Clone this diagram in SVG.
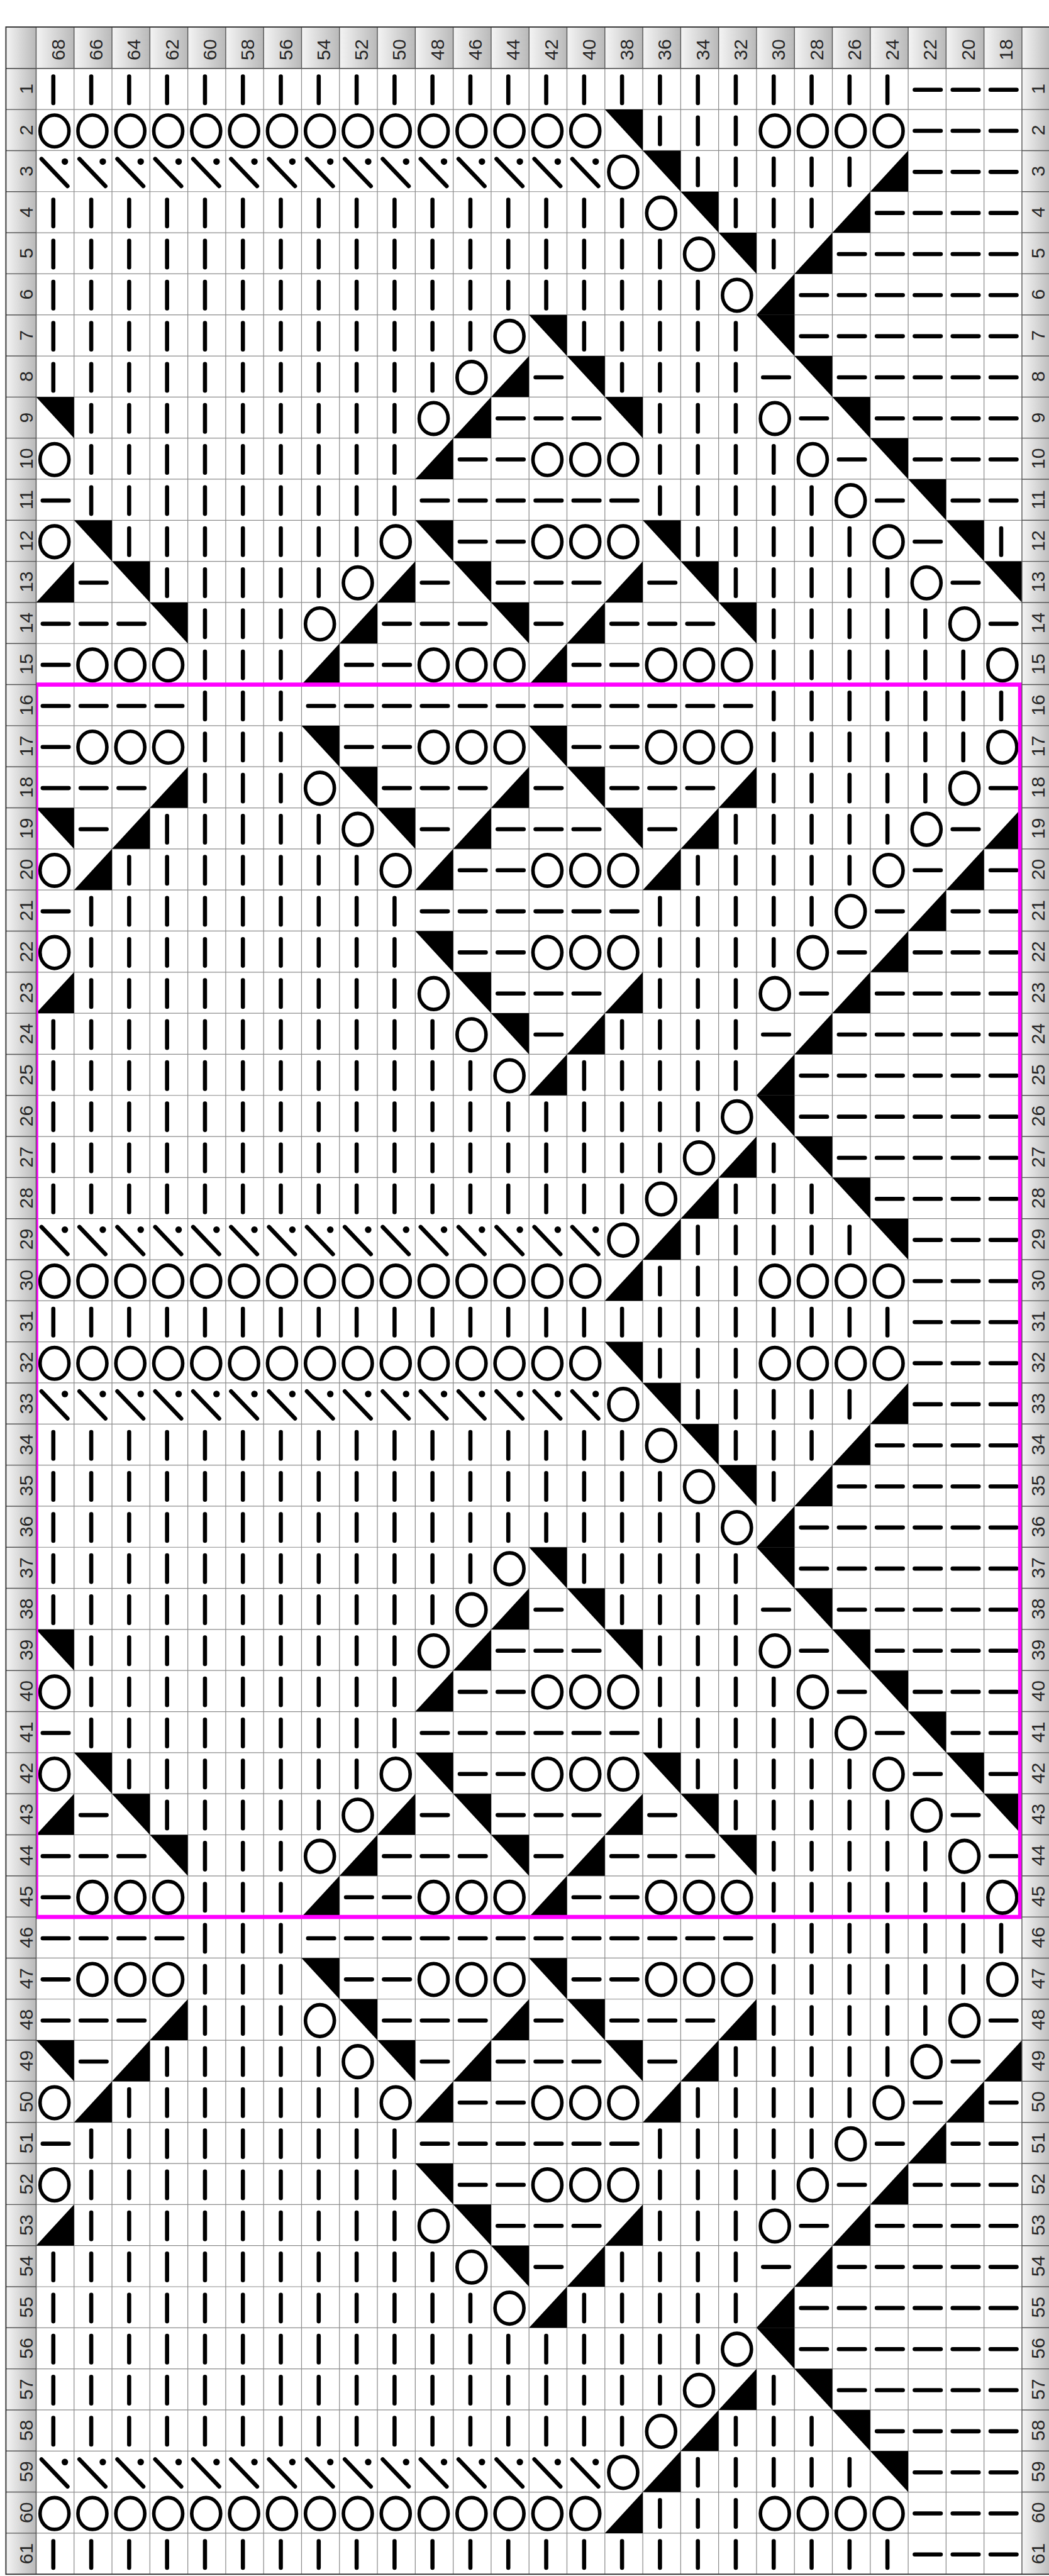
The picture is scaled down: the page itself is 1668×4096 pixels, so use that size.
<svg xmlns="http://www.w3.org/2000/svg" width="1668" height="4096" viewBox="0 0 1668 4096">
<style>
.k{fill:none;stroke:#000;stroke-width:7;stroke-linecap:round}
.o{fill:none;stroke:#000;stroke-width:6}
.t{font-family:"Liberation Sans",Arial,sans-serif;font-size:32px;fill:#262626;text-anchor:middle;dominant-baseline:central}
.g{fill:none;stroke:#8c8c8c;stroke-width:1.3}
.d{fill:none;stroke:#555;stroke-width:1.5}
</style>
<defs>
<linearGradient id="gr" x1="0" y1="0" x2="1" y2="0"><stop offset="0" stop-color="#f4f4f4"/><stop offset="1" stop-color="#b9b9b9"/></linearGradient>
<pattern id="hp" x="61" y="45.6" width="64" height="69.9" patternUnits="userSpaceOnUse"><rect width="64" height="69.9" fill="url(#gr)"/></pattern>
<path id="V" d="M29 13.5V58.5" class="k"/>
<path id="H" d="M11 36H55" class="k"/>
<ellipse id="O" cx="31" cy="36.2" rx="24.4" ry="26.8" class="o"/>
<path id="N" d="M0 0H64V69.34Z" fill="#000"/>
<path id="S" d="M64 0V69.34H0Z" fill="#000"/>
<g id="D"><path d="M9 14L53 60" class="k"/><circle cx="48.5" cy="18.6" r="5.5" fill="#000"/></g>
<g id="vD"><use href="#V" x="61"/><use href="#V" x="125"/><use href="#V" x="189"/><use href="#V" x="253"/><use href="#V" x="317"/><use href="#V" x="381"/><use href="#V" x="445"/><use href="#V" x="509"/><use href="#V" x="573"/><use href="#V" x="637"/><use href="#V" x="701"/></g>
<g id="vC"><use href="#vD"/><use href="#V" x="765"/></g>
<g id="vA"><use href="#vC"/><use href="#V" x="829"/></g>
<g id="vB"><use href="#V" x="125"/><use href="#V" x="189"/><use href="#V" x="253"/><use href="#V" x="317"/><use href="#V" x="381"/><use href="#V" x="445"/><use href="#V" x="509"/><use href="#V" x="573"/><use href="#V" x="637"/></g>
<g id="hE"><use href="#H" x="1533"/><use href="#H" x="1597"/><use href="#H" x="1661"/></g>
<g id="oA"><use href="#O" x="61"/><use href="#O" x="125"/><use href="#O" x="189"/><use href="#O" x="253"/><use href="#O" x="317"/><use href="#O" x="381"/><use href="#O" x="445"/><use href="#O" x="509"/><use href="#O" x="573"/><use href="#O" x="637"/><use href="#O" x="701"/><use href="#O" x="765"/><use href="#O" x="829"/><use href="#O" x="893"/><use href="#O" x="957"/></g>
<g id="dA"><use href="#D" x="61"/><use href="#D" x="125"/><use href="#D" x="189"/><use href="#D" x="253"/><use href="#D" x="317"/><use href="#D" x="381"/><use href="#D" x="445"/><use href="#D" x="509"/><use href="#D" x="573"/><use href="#D" x="637"/><use href="#D" x="701"/><use href="#D" x="765"/><use href="#D" x="829"/><use href="#D" x="893"/><use href="#D" x="957"/></g>

<g id="r1"><use href="#vA"/><use href="#V" x="893"/><use href="#V" x="957"/><use href="#V" x="1021"/><use href="#V" x="1085"/><use href="#V" x="1149"/><use href="#V" x="1213"/><use href="#V" x="1277"/><use href="#V" x="1341"/><use href="#V" x="1405"/><use href="#V" x="1469"/><use href="#hE"/></g>
<g id="r2"><use href="#oA"/><use href="#N" x="1021"/><use href="#V" x="1085"/><use href="#V" x="1149"/><use href="#V" x="1213"/><use href="#O" x="1277"/><use href="#O" x="1341"/><use href="#O" x="1405"/><use href="#O" x="1469"/><use href="#hE"/></g>
<g id="r3"><use href="#dA"/><use href="#O" x="1021"/><use href="#N" x="1085"/><use href="#V" x="1149"/><use href="#V" x="1213"/><use href="#V" x="1277"/><use href="#V" x="1341"/><use href="#V" x="1405"/><use href="#S" x="1469"/><use href="#hE"/></g>
<g id="r4"><use href="#vA"/><use href="#V" x="893"/><use href="#V" x="957"/><use href="#V" x="1021"/><use href="#O" x="1085"/><use href="#N" x="1149"/><use href="#V" x="1213"/><use href="#V" x="1277"/><use href="#V" x="1341"/><use href="#S" x="1405"/><use href="#H" x="1469"/><use href="#hE"/></g>
<g id="r5"><use href="#vA"/><use href="#V" x="893"/><use href="#V" x="957"/><use href="#V" x="1021"/><use href="#V" x="1085"/><use href="#O" x="1149"/><use href="#N" x="1213"/><use href="#V" x="1277"/><use href="#S" x="1341"/><use href="#H" x="1405"/><use href="#H" x="1469"/><use href="#hE"/></g>
<g id="r6"><use href="#vA"/><use href="#V" x="893"/><use href="#V" x="957"/><use href="#V" x="1021"/><use href="#V" x="1085"/><use href="#V" x="1149"/><use href="#O" x="1213"/><use href="#S" x="1277"/><use href="#H" x="1341"/><use href="#H" x="1405"/><use href="#H" x="1469"/><use href="#hE"/></g>
<g id="r7"><use href="#vC"/><use href="#O" x="829"/><use href="#N" x="893"/><use href="#V" x="957"/><use href="#V" x="1021"/><use href="#V" x="1085"/><use href="#V" x="1149"/><use href="#V" x="1213"/><use href="#N" x="1277"/><use href="#H" x="1341"/><use href="#H" x="1405"/><use href="#H" x="1469"/><use href="#hE"/></g>
<g id="r8"><use href="#vD"/><use href="#O" x="765"/><use href="#S" x="829"/><use href="#H" x="893"/><use href="#N" x="957"/><use href="#V" x="1021"/><use href="#V" x="1085"/><use href="#V" x="1149"/><use href="#V" x="1213"/><use href="#H" x="1277"/><use href="#N" x="1341"/><use href="#H" x="1405"/><use href="#H" x="1469"/><use href="#hE"/></g>
<g id="r9"><use href="#N" x="61"/><use href="#vB"/><use href="#O" x="701"/><use href="#S" x="765"/><use href="#H" x="829"/><use href="#H" x="893"/><use href="#H" x="957"/><use href="#N" x="1021"/><use href="#V" x="1085"/><use href="#V" x="1149"/><use href="#V" x="1213"/><use href="#O" x="1277"/><use href="#H" x="1341"/><use href="#N" x="1405"/><use href="#H" x="1469"/><use href="#hE"/></g>
<g id="r10"><use href="#O" x="61"/><use href="#vB"/><use href="#S" x="701"/><use href="#H" x="765"/><use href="#H" x="829"/><use href="#O" x="893"/><use href="#O" x="957"/><use href="#O" x="1021"/><use href="#V" x="1085"/><use href="#V" x="1149"/><use href="#V" x="1213"/><use href="#V" x="1277"/><use href="#O" x="1341"/><use href="#H" x="1405"/><use href="#N" x="1469"/><use href="#hE"/></g>
<g id="r11"><use href="#H" x="61"/><use href="#vB"/><use href="#H" x="701"/><use href="#H" x="765"/><use href="#H" x="829"/><use href="#H" x="893"/><use href="#H" x="957"/><use href="#H" x="1021"/><use href="#V" x="1085"/><use href="#V" x="1149"/><use href="#V" x="1213"/><use href="#V" x="1277"/><use href="#V" x="1341"/><use href="#O" x="1405"/><use href="#H" x="1469"/><use href="#N" x="1533"/><use href="#H" x="1597"/><use href="#H" x="1661"/></g>
<g id="r12"><use href="#O" x="61"/><use href="#N" x="125"/><use href="#V" x="189"/><use href="#V" x="253"/><use href="#V" x="317"/><use href="#V" x="381"/><use href="#V" x="445"/><use href="#V" x="509"/><use href="#V" x="573"/><use href="#O" x="637"/><use href="#N" x="701"/><use href="#H" x="765"/><use href="#H" x="829"/><use href="#O" x="893"/><use href="#O" x="957"/><use href="#O" x="1021"/><use href="#N" x="1085"/><use href="#V" x="1149"/><use href="#V" x="1213"/><use href="#V" x="1277"/><use href="#V" x="1341"/><use href="#V" x="1405"/><use href="#O" x="1469"/><use href="#H" x="1533"/><use href="#N" x="1597"/></g>
<g id="r13"><use href="#S" x="61"/><use href="#H" x="125"/><use href="#N" x="189"/><use href="#V" x="253"/><use href="#V" x="317"/><use href="#V" x="381"/><use href="#V" x="445"/><use href="#V" x="509"/><use href="#O" x="573"/><use href="#S" x="637"/><use href="#H" x="701"/><use href="#N" x="765"/><use href="#H" x="829"/><use href="#H" x="893"/><use href="#H" x="957"/><use href="#S" x="1021"/><use href="#H" x="1085"/><use href="#N" x="1149"/><use href="#V" x="1213"/><use href="#V" x="1277"/><use href="#V" x="1341"/><use href="#V" x="1405"/><use href="#V" x="1469"/><use href="#O" x="1533"/><use href="#H" x="1597"/><use href="#N" x="1661"/></g>
<g id="r14"><use href="#H" x="61"/><use href="#H" x="125"/><use href="#H" x="189"/><use href="#N" x="253"/><use href="#V" x="317"/><use href="#V" x="381"/><use href="#V" x="445"/><use href="#O" x="509"/><use href="#S" x="573"/><use href="#H" x="637"/><use href="#H" x="701"/><use href="#H" x="765"/><use href="#N" x="829"/><use href="#H" x="893"/><use href="#S" x="957"/><use href="#H" x="1021"/><use href="#H" x="1085"/><use href="#H" x="1149"/><use href="#N" x="1213"/><use href="#V" x="1277"/><use href="#V" x="1341"/><use href="#V" x="1405"/><use href="#V" x="1469"/><use href="#V" x="1533"/><use href="#O" x="1597"/><use href="#H" x="1661"/></g>
<g id="r15"><use href="#H" x="61"/><use href="#O" x="125"/><use href="#O" x="189"/><use href="#O" x="253"/><use href="#V" x="317"/><use href="#V" x="381"/><use href="#V" x="445"/><use href="#S" x="509"/><use href="#H" x="573"/><use href="#H" x="637"/><use href="#O" x="701"/><use href="#O" x="765"/><use href="#O" x="829"/><use href="#S" x="893"/><use href="#H" x="957"/><use href="#H" x="1021"/><use href="#O" x="1085"/><use href="#O" x="1149"/><use href="#O" x="1213"/><use href="#V" x="1277"/><use href="#V" x="1341"/><use href="#V" x="1405"/><use href="#V" x="1469"/><use href="#V" x="1533"/><use href="#V" x="1597"/><use href="#O" x="1661"/></g>
<g id="r16"><use href="#H" x="61"/><use href="#H" x="125"/><use href="#H" x="189"/><use href="#H" x="253"/><use href="#V" x="317"/><use href="#V" x="381"/><use href="#V" x="445"/><use href="#H" x="509"/><use href="#H" x="573"/><use href="#H" x="637"/><use href="#H" x="701"/><use href="#H" x="765"/><use href="#H" x="829"/><use href="#H" x="893"/><use href="#H" x="957"/><use href="#H" x="1021"/><use href="#H" x="1085"/><use href="#H" x="1149"/><use href="#H" x="1213"/><use href="#V" x="1277"/><use href="#V" x="1341"/><use href="#V" x="1405"/><use href="#V" x="1469"/><use href="#V" x="1533"/><use href="#V" x="1597"/><use href="#V" x="1661"/></g>
<g id="r17"><use href="#H" x="61"/><use href="#O" x="125"/><use href="#O" x="189"/><use href="#O" x="253"/><use href="#V" x="317"/><use href="#V" x="381"/><use href="#V" x="445"/><use href="#N" x="509"/><use href="#H" x="573"/><use href="#H" x="637"/><use href="#O" x="701"/><use href="#O" x="765"/><use href="#O" x="829"/><use href="#N" x="893"/><use href="#H" x="957"/><use href="#H" x="1021"/><use href="#O" x="1085"/><use href="#O" x="1149"/><use href="#O" x="1213"/><use href="#V" x="1277"/><use href="#V" x="1341"/><use href="#V" x="1405"/><use href="#V" x="1469"/><use href="#V" x="1533"/><use href="#V" x="1597"/><use href="#O" x="1661"/></g>
<g id="r18"><use href="#H" x="61"/><use href="#H" x="125"/><use href="#H" x="189"/><use href="#S" x="253"/><use href="#V" x="317"/><use href="#V" x="381"/><use href="#V" x="445"/><use href="#O" x="509"/><use href="#N" x="573"/><use href="#H" x="637"/><use href="#H" x="701"/><use href="#H" x="765"/><use href="#S" x="829"/><use href="#H" x="893"/><use href="#N" x="957"/><use href="#H" x="1021"/><use href="#H" x="1085"/><use href="#H" x="1149"/><use href="#S" x="1213"/><use href="#V" x="1277"/><use href="#V" x="1341"/><use href="#V" x="1405"/><use href="#V" x="1469"/><use href="#V" x="1533"/><use href="#O" x="1597"/><use href="#H" x="1661"/></g>
<g id="r19"><use href="#N" x="61"/><use href="#H" x="125"/><use href="#S" x="189"/><use href="#V" x="253"/><use href="#V" x="317"/><use href="#V" x="381"/><use href="#V" x="445"/><use href="#V" x="509"/><use href="#O" x="573"/><use href="#N" x="637"/><use href="#H" x="701"/><use href="#S" x="765"/><use href="#H" x="829"/><use href="#H" x="893"/><use href="#H" x="957"/><use href="#N" x="1021"/><use href="#H" x="1085"/><use href="#S" x="1149"/><use href="#V" x="1213"/><use href="#V" x="1277"/><use href="#V" x="1341"/><use href="#V" x="1405"/><use href="#V" x="1469"/><use href="#O" x="1533"/><use href="#H" x="1597"/><use href="#S" x="1661"/></g>
<g id="r20"><use href="#O" x="61"/><use href="#S" x="125"/><use href="#V" x="189"/><use href="#V" x="253"/><use href="#V" x="317"/><use href="#V" x="381"/><use href="#V" x="445"/><use href="#V" x="509"/><use href="#V" x="573"/><use href="#O" x="637"/><use href="#S" x="701"/><use href="#H" x="765"/><use href="#H" x="829"/><use href="#O" x="893"/><use href="#O" x="957"/><use href="#O" x="1021"/><use href="#S" x="1085"/><use href="#V" x="1149"/><use href="#V" x="1213"/><use href="#V" x="1277"/><use href="#V" x="1341"/><use href="#V" x="1405"/><use href="#O" x="1469"/><use href="#H" x="1533"/><use href="#S" x="1597"/><use href="#H" x="1661"/></g>
<g id="r21"><use href="#H" x="61"/><use href="#vB"/><use href="#H" x="701"/><use href="#H" x="765"/><use href="#H" x="829"/><use href="#H" x="893"/><use href="#H" x="957"/><use href="#H" x="1021"/><use href="#V" x="1085"/><use href="#V" x="1149"/><use href="#V" x="1213"/><use href="#V" x="1277"/><use href="#V" x="1341"/><use href="#O" x="1405"/><use href="#H" x="1469"/><use href="#S" x="1533"/><use href="#H" x="1597"/><use href="#H" x="1661"/></g>
<g id="r22"><use href="#O" x="61"/><use href="#vB"/><use href="#N" x="701"/><use href="#H" x="765"/><use href="#H" x="829"/><use href="#O" x="893"/><use href="#O" x="957"/><use href="#O" x="1021"/><use href="#V" x="1085"/><use href="#V" x="1149"/><use href="#V" x="1213"/><use href="#V" x="1277"/><use href="#O" x="1341"/><use href="#H" x="1405"/><use href="#S" x="1469"/><use href="#hE"/></g>
<g id="r23"><use href="#S" x="61"/><use href="#vB"/><use href="#O" x="701"/><use href="#N" x="765"/><use href="#H" x="829"/><use href="#H" x="893"/><use href="#H" x="957"/><use href="#S" x="1021"/><use href="#V" x="1085"/><use href="#V" x="1149"/><use href="#V" x="1213"/><use href="#O" x="1277"/><use href="#H" x="1341"/><use href="#S" x="1405"/><use href="#H" x="1469"/><use href="#hE"/></g>
<g id="r24"><use href="#vD"/><use href="#O" x="765"/><use href="#N" x="829"/><use href="#H" x="893"/><use href="#S" x="957"/><use href="#V" x="1021"/><use href="#V" x="1085"/><use href="#V" x="1149"/><use href="#V" x="1213"/><use href="#H" x="1277"/><use href="#S" x="1341"/><use href="#H" x="1405"/><use href="#H" x="1469"/><use href="#hE"/></g>
<g id="r25"><use href="#vC"/><use href="#O" x="829"/><use href="#S" x="893"/><use href="#V" x="957"/><use href="#V" x="1021"/><use href="#V" x="1085"/><use href="#V" x="1149"/><use href="#V" x="1213"/><use href="#S" x="1277"/><use href="#H" x="1341"/><use href="#H" x="1405"/><use href="#H" x="1469"/><use href="#hE"/></g>
<g id="r26"><use href="#vA"/><use href="#V" x="893"/><use href="#V" x="957"/><use href="#V" x="1021"/><use href="#V" x="1085"/><use href="#V" x="1149"/><use href="#O" x="1213"/><use href="#N" x="1277"/><use href="#H" x="1341"/><use href="#H" x="1405"/><use href="#H" x="1469"/><use href="#hE"/></g>
<g id="r27"><use href="#vA"/><use href="#V" x="893"/><use href="#V" x="957"/><use href="#V" x="1021"/><use href="#V" x="1085"/><use href="#O" x="1149"/><use href="#S" x="1213"/><use href="#V" x="1277"/><use href="#N" x="1341"/><use href="#H" x="1405"/><use href="#H" x="1469"/><use href="#hE"/></g>
<g id="r28"><use href="#vA"/><use href="#V" x="893"/><use href="#V" x="957"/><use href="#V" x="1021"/><use href="#O" x="1085"/><use href="#S" x="1149"/><use href="#V" x="1213"/><use href="#V" x="1277"/><use href="#V" x="1341"/><use href="#N" x="1405"/><use href="#H" x="1469"/><use href="#hE"/></g>
<g id="r29"><use href="#dA"/><use href="#O" x="1021"/><use href="#S" x="1085"/><use href="#V" x="1149"/><use href="#V" x="1213"/><use href="#V" x="1277"/><use href="#V" x="1341"/><use href="#V" x="1405"/><use href="#N" x="1469"/><use href="#hE"/></g>
<g id="r30"><use href="#oA"/><use href="#S" x="1021"/><use href="#V" x="1085"/><use href="#V" x="1149"/><use href="#V" x="1213"/><use href="#O" x="1277"/><use href="#O" x="1341"/><use href="#O" x="1405"/><use href="#O" x="1469"/><use href="#hE"/></g>
</defs>
<rect width="1668" height="4096" fill="#fff"/>
<g transform="scale(0.942)">
<path id="grid" class="g" d="M61 115.5v4229.74m64-4229.74v4229.74m64-4229.74v4229.74m64-4229.74v4229.74m64-4229.74v4229.74m64-4229.74v4229.74m64-4229.74v4229.74m64-4229.74v4229.74m64-4229.74v4229.74m64-4229.74v4229.74m64-4229.74v4229.74m64-4229.74v4229.74m64-4229.74v4229.74m64-4229.74v4229.74m64-4229.74v4229.74m64-4229.74v4229.74m64-4229.74v4229.74m64-4229.74v4229.74m64-4229.74v4229.74m64-4229.74v4229.74m64-4229.74v4229.74m64-4229.74v4229.74m64-4229.74v4229.74m64-4229.74v4229.74m64-4229.74v4229.74m64-4229.74v4229.74M61 115.5h1664m-1664 69.34h1664m-1664 69.34h1664m-1664 69.34h1664m-1664 69.34h1664m-1664 69.34h1664m-1664 69.34h1664m-1664 69.34h1664m-1664 69.34h1664m-1664 69.34h1664m-1664 69.34h1664m-1664 69.34h1664m-1664 69.34h1664m-1664 69.34h1664m-1664 69.34h1664m-1664 69.34h1664m-1664 69.34h1664m-1664 69.34h1664m-1664 69.34h1664m-1664 69.34h1664m-1664 69.34h1664m-1664 69.34h1664m-1664 69.34h1664m-1664 69.34h1664m-1664 69.34h1664m-1664 69.34h1664m-1664 69.34h1664m-1664 69.34h1664m-1664 69.34h1664m-1664 69.34h1664m-1664 69.34h1664m-1664 69.34h1664m-1664 69.34h1664m-1664 69.34h1664m-1664 69.34h1664m-1664 69.34h1664m-1664 69.34h1664m-1664 69.34h1664m-1664 69.34h1664m-1664 69.34h1664m-1664 69.34h1664m-1664 69.34h1664m-1664 69.34h1664m-1664 69.34h1664m-1664 69.34h1664m-1664 69.34h1664m-1664 69.34h1664m-1664 69.34h1664m-1664 69.34h1664m-1664 69.34h1664m-1664 69.34h1664m-1664 69.34h1664m-1664 69.34h1664m-1664 69.34h1664m-1664 69.34h1664m-1664 69.34h1664m-1664 69.34h1664m-1664 69.34h1664m-1664 69.34h1664m-1664 69.34h1664m-1664 69.34h1664m-1664 69.34h1664m-1664 69.34h1664m-1664 69.34h1664"/>
<g id="cells">
<use href="#r1" y="115.5"/><use href="#r2" y="184.84"/><use href="#r3" y="254.18"/><use href="#r4" y="323.52"/><use href="#r5" y="392.86"/><use href="#r6" y="462.2"/><use href="#r7" y="531.54"/><use href="#r8" y="600.88"/><use href="#r9" y="670.22"/><use href="#r10" y="739.56"/>
<use href="#r11" y="808.9"/><use href="#r12" y="878.24"/><use href="#V" x="1661" y="878.24"/><use href="#r13" y="947.58"/><use href="#r14" y="1016.92"/><use href="#r15" y="1086.26"/><use href="#r16" y="1155.6"/><use href="#r17" y="1224.94"/><use href="#r18" y="1294.28"/><use href="#r19" y="1363.62"/><use href="#r20" y="1432.96"/>
<use href="#r21" y="1502.3"/><use href="#r22" y="1571.64"/><use href="#r23" y="1640.98"/><use href="#r24" y="1710.32"/><use href="#r25" y="1779.66"/><use href="#r26" y="1849"/><use href="#r27" y="1918.34"/><use href="#r28" y="1987.68"/><use href="#r29" y="2057.02"/><use href="#r30" y="2126.36"/>
<use href="#r1" y="2195.7"/><use href="#r2" y="2265.04"/><use href="#r3" y="2334.38"/><use href="#r4" y="2403.72"/><use href="#r5" y="2473.06"/><use href="#r6" y="2542.4"/><use href="#r7" y="2611.74"/><use href="#r8" y="2681.08"/><use href="#r9" y="2750.42"/><use href="#r10" y="2819.76"/>
<use href="#r11" y="2889.1"/><use href="#r12" y="2958.44"/><use href="#H" x="1661" y="2958.44"/><use href="#r13" y="3027.78"/><use href="#r14" y="3097.12"/><use href="#r15" y="3166.46"/><use href="#r16" y="3235.8"/><use href="#r17" y="3305.14"/><use href="#r18" y="3374.48"/><use href="#r19" y="3443.82"/><use href="#r20" y="3513.16"/>
<use href="#r21" y="3582.5"/><use href="#r22" y="3651.84"/><use href="#r23" y="3721.18"/><use href="#r24" y="3790.52"/><use href="#r25" y="3859.86"/><use href="#r26" y="3929.2"/><use href="#r27" y="3998.54"/><use href="#r28" y="4067.88"/><use href="#r29" y="4137.22"/><use href="#r30" y="4206.56"/>
<use href="#r1" y="4275.9"/>
</g>
<rect id="repeat-box" x="61" y="1155.6" width="1661" height="2080.2" fill="none" stroke="#ff00ff" stroke-width="7"/>
<g id="labels-bg">
<rect x="61" y="45.6" width="1664" height="69.9" fill="url(#hp)"/>
<rect x="10" y="45.6" width="51" height="69.9" fill="url(#gr)"/>
<rect x="1725" y="45.6" width="51" height="69.9" fill="url(#gr)"/>
<rect x="10" y="115.5" width="51" height="4229.74" fill="url(#gr)"/>
<rect x="1725" y="115.5" width="51" height="4229.74" fill="url(#gr)"/>
<path class="d" d="M61 45.6v69.9m64-69.9v69.9m64-69.9v69.9m64-69.9v69.9m64-69.9v69.9m64-69.9v69.9m64-69.9v69.9m64-69.9v69.9m64-69.9v69.9m64-69.9v69.9m64-69.9v69.9m64-69.9v69.9m64-69.9v69.9m64-69.9v69.9m64-69.9v69.9m64-69.9v69.9m64-69.9v69.9m64-69.9v69.9m64-69.9v69.9m64-69.9v69.9m64-69.9v69.9m64-69.9v69.9m64-69.9v69.9m64-69.9v69.9m64-69.9v69.9m64-69.9v69.9m64-69.9v69.9M10 115.5H1776M61 115.5V4345.24M1725 115.5V4345.24"/>
<path class="d" d="M10 115.5h51m-51 69.34h51m-51 69.34h51m-51 69.34h51m-51 69.34h51m-51 69.34h51m-51 69.34h51m-51 69.34h51m-51 69.34h51m-51 69.34h51m-51 69.34h51m-51 69.34h51m-51 69.34h51m-51 69.34h51m-51 69.34h51m-51 69.34h51m-51 69.34h51m-51 69.34h51m-51 69.34h51m-51 69.34h51m-51 69.34h51m-51 69.34h51m-51 69.34h51m-51 69.34h51m-51 69.34h51m-51 69.34h51m-51 69.34h51m-51 69.34h51m-51 69.34h51m-51 69.34h51m-51 69.34h51m-51 69.34h51m-51 69.34h51m-51 69.34h51m-51 69.34h51m-51 69.34h51m-51 69.34h51m-51 69.34h51m-51 69.34h51m-51 69.34h51m-51 69.34h51m-51 69.34h51m-51 69.34h51m-51 69.34h51m-51 69.34h51m-51 69.34h51m-51 69.34h51m-51 69.34h51m-51 69.34h51m-51 69.34h51m-51 69.34h51m-51 69.34h51m-51 69.34h51m-51 69.34h51m-51 69.34h51m-51 69.34h51m-51 69.34h51m-51 69.34h51m-51 69.34h51m-51 69.34h51m-51 69.34h51"/>
<path class="d" d="M1725 115.5h51m-51 69.34h51m-51 69.34h51m-51 69.34h51m-51 69.34h51m-51 69.34h51m-51 69.34h51m-51 69.34h51m-51 69.34h51m-51 69.34h51m-51 69.34h51m-51 69.34h51m-51 69.34h51m-51 69.34h51m-51 69.34h51m-51 69.34h51m-51 69.34h51m-51 69.34h51m-51 69.34h51m-51 69.34h51m-51 69.34h51m-51 69.34h51m-51 69.34h51m-51 69.34h51m-51 69.34h51m-51 69.34h51m-51 69.34h51m-51 69.34h51m-51 69.34h51m-51 69.34h51m-51 69.34h51m-51 69.34h51m-51 69.34h51m-51 69.34h51m-51 69.34h51m-51 69.34h51m-51 69.34h51m-51 69.34h51m-51 69.34h51m-51 69.34h51m-51 69.34h51m-51 69.34h51m-51 69.34h51m-51 69.34h51m-51 69.34h51m-51 69.34h51m-51 69.34h51m-51 69.34h51m-51 69.34h51m-51 69.34h51m-51 69.34h51m-51 69.34h51m-51 69.34h51m-51 69.34h51m-51 69.34h51m-51 69.34h51m-51 69.34h51m-51 69.34h51m-51 69.34h51m-51 69.34h51"/>
<rect x="10" y="45.6" width="1766" height="4299.64" fill="none" stroke="#333" stroke-width="2"/>
</g>
<g id="header-labels" class="t" transform="translate(0 84) rotate(-90)">
<text y="98">68</text><text y="162">66</text><text y="226">64</text><text y="290">62</text><text y="354">60</text><text y="418">58</text><text y="482">56</text><text y="546">54</text><text y="610">52</text><text y="674">50</text><text y="738">48</text><text y="802">46</text><text y="866">44</text><text y="930">42</text><text y="994">40</text><text y="1058">38</text><text y="1122">36</text><text y="1186">34</text><text y="1250">32</text><text y="1314">30</text><text y="1378">28</text><text y="1442">26</text><text y="1506">24</text><text y="1570">22</text><text y="1634">20</text><text y="1698">18</text>
</g>
<g id="row-labels-left" class="t" transform="translate(44 0) rotate(-90)">
<text x="-150.17">1</text><text x="-219.51">2</text><text x="-288.85">3</text><text x="-358.19">4</text><text x="-427.53">5</text><text x="-496.87">6</text><text x="-566.21">7</text><text x="-635.55">8</text><text x="-704.89">9</text><text x="-774.23">10</text><text x="-843.57">11</text><text x="-912.91">12</text><text x="-982.25">13</text><text x="-1051.59">14</text><text x="-1120.93">15</text><text x="-1190.27">16</text><text x="-1259.61">17</text><text x="-1328.95">18</text><text x="-1398.29">19</text><text x="-1467.63">20</text><text x="-1536.97">21</text><text x="-1606.31">22</text><text x="-1675.65">23</text><text x="-1744.99">24</text><text x="-1814.33">25</text><text x="-1883.67">26</text><text x="-1953.01">27</text><text x="-2022.35">28</text><text x="-2091.69">29</text><text x="-2161.03">30</text><text x="-2230.37">31</text><text x="-2299.71">32</text><text x="-2369.05">33</text><text x="-2438.39">34</text><text x="-2507.73">35</text><text x="-2577.07">36</text><text x="-2646.41">37</text><text x="-2715.75">38</text><text x="-2785.09">39</text><text x="-2854.43">40</text><text x="-2923.77">41</text><text x="-2993.11">42</text><text x="-3062.45">43</text><text x="-3131.79">44</text><text x="-3201.13">45</text><text x="-3270.47">46</text><text x="-3339.81">47</text><text x="-3409.15">48</text><text x="-3478.49">49</text><text x="-3547.83">50</text><text x="-3617.17">51</text><text x="-3686.51">52</text><text x="-3755.85">53</text><text x="-3825.19">54</text><text x="-3894.53">55</text><text x="-3963.87">56</text><text x="-4033.21">57</text><text x="-4102.55">58</text><text x="-4171.89">59</text><text x="-4241.23">60</text><text x="-4310.57">61</text>
</g>
<g id="row-labels-right" class="t" transform="translate(1752 0) rotate(-90)">
<text x="-150.17">1</text><text x="-219.51">2</text><text x="-288.85">3</text><text x="-358.19">4</text><text x="-427.53">5</text><text x="-496.87">6</text><text x="-566.21">7</text><text x="-635.55">8</text><text x="-704.89">9</text><text x="-774.23">10</text><text x="-843.57">11</text><text x="-912.91">12</text><text x="-982.25">13</text><text x="-1051.59">14</text><text x="-1120.93">15</text><text x="-1190.27">16</text><text x="-1259.61">17</text><text x="-1328.95">18</text><text x="-1398.29">19</text><text x="-1467.63">20</text><text x="-1536.97">21</text><text x="-1606.31">22</text><text x="-1675.65">23</text><text x="-1744.99">24</text><text x="-1814.33">25</text><text x="-1883.67">26</text><text x="-1953.01">27</text><text x="-2022.35">28</text><text x="-2091.69">29</text><text x="-2161.03">30</text><text x="-2230.37">31</text><text x="-2299.71">32</text><text x="-2369.05">33</text><text x="-2438.39">34</text><text x="-2507.73">35</text><text x="-2577.07">36</text><text x="-2646.41">37</text><text x="-2715.75">38</text><text x="-2785.09">39</text><text x="-2854.43">40</text><text x="-2923.77">41</text><text x="-2993.11">42</text><text x="-3062.45">43</text><text x="-3131.79">44</text><text x="-3201.13">45</text><text x="-3270.47">46</text><text x="-3339.81">47</text><text x="-3409.15">48</text><text x="-3478.49">49</text><text x="-3547.83">50</text><text x="-3617.17">51</text><text x="-3686.51">52</text><text x="-3755.85">53</text><text x="-3825.19">54</text><text x="-3894.53">55</text><text x="-3963.87">56</text><text x="-4033.21">57</text><text x="-4102.55">58</text><text x="-4171.89">59</text><text x="-4241.23">60</text><text x="-4310.57">61</text>
</g>
</g>
</svg>
